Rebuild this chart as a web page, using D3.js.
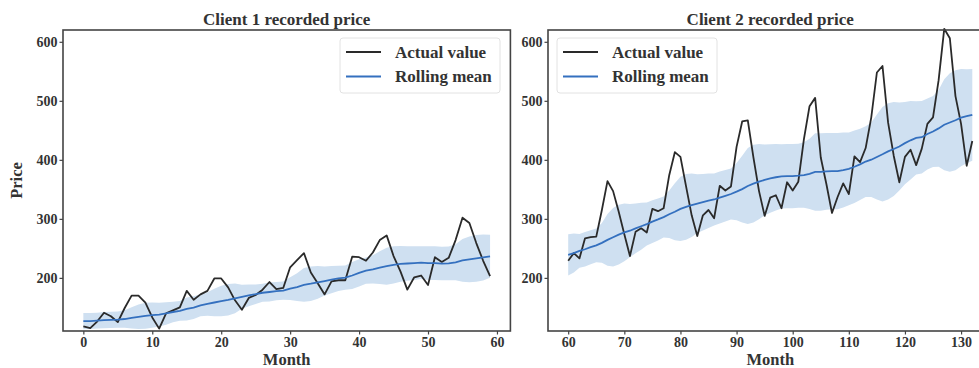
<!DOCTYPE html>
<html>
<head>
<meta charset="utf-8">
<script src="https://cdn.jsdelivr.net/npm/d3@7"></script>
<style>
  body { margin: 0; background: #fff; }
  svg text { font-family: "Liberation Serif", "Times New Roman", serif; font-weight: bold; fill: #333; }
  .domain { display: none; }
  .tick line { stroke: #444; stroke-width: 1.2; }
  .tick text { font-size: 14px; }
</style>
</head>
<body>
<div id="area"></div>
<script>
// Client 1, months 0..59
var months1 = d3.range(0, 60);
var actual1 = [118,115,126,141,135,125,149,170,170,158,133,114,140,145,150,178,163,172,178,199,
  199,184,162,146,166,171,180,193,181,183,218,230,242,209,191,172,194,196,196,236,
  235,229,243,264,272,237,211,180,201,204,188,235,227,234,264,302,293,259,229,203];
var mean1 = [126.7,126.9,127.6,128.3,128.8,129.2,130.3,132.2,134.0,135.8,137.0,137.8,139.7,
  142.2,144.2,147.3,149.6,153.5,155.9,158.3,160.8,162.9,165.3,168.0,170.2,
  172.3,174.8,176.1,177.6,178.5,181.8,184.4,188.0,190.1,192.5,194.7,197.0,
  199.1,200.4,204.0,208.5,212.3,214.4,217.3,219.8,222.1,223.8,224.4,225.0,
  225.7,225.0,224.9,224.3,224.7,226.4,229.6,231.3,233.2,234.7,236.6];
var spread1 = [13.7,13.5,13.2,13.7,13.8,13.7,14.8,18.1,20.8,21.9,21.3,20.1,19.1,
  17.4,16.8,19.3,19.4,18.7,19.9,23.3,25.9,26.8,25.1,20.4,18.4,
  16.7,15.2,16.1,15.6,15.5,19.3,23.4,28.6,29.2,27.8,24.7,23.0,
  21.5,20.7,22.9,23.2,22.4,24.1,27.8,31.4,31.5,30.2,29.1,28.5,
  27.8,28.7,28.6,28.5,28.6,30.4,36.1,38.8,39.6,39.0,36.5];

// Client 2, months 60..132
var months2 = d3.range(60, 133);
var actual2 = [229,242,233,267,269,270,315,364,347,312,274,237,278,
  284,277,317,313,318,374,413,405,355,306,271,306,
  315,301,356,348,355,422,465,467,404,347,305,336,
  340,318,362,348,363,435,491,505,404,359,310,337,
  360,342,406,396,420,472,548,559,463,407,362,405,
  417,391,419,461,472,535,622,606,508,461,390,432];
var mean2 = [238.9,242.1,245.8,248.5,252.0,255.0,259.3,264.4,268.9,273.3,277.1,279.9,284.0,
  287.5,291.2,295.3,299.0,303.0,307.9,312.0,316.8,320.4,323.1,325.9,328.3,
  330.8,332.8,336.1,339.0,342.1,346.1,350.4,355.6,359.7,363.1,365.9,368.4,
  370.5,371.9,372.4,372.4,373.1,374.2,376.3,379.5,379.5,380.5,380.9,381.0,
  382.7,384.7,388.3,392.3,397.1,400.2,404.9,409.4,414.3,418.3,422.7,428.3,
  433.1,437.2,438.3,443.7,448.0,453.3,459.4,463.3,467.1,471.6,473.9,476.2];
var spread2 = [34.9,33.1,28.7,29.1,28.8,28.6,33.5,43.8,49.5,50.8,48.9,45.1,42.1,
  40.0,36.4,36.3,35.6,34.7,40.3,48.2,54.5,55.6,53.9,49.7,47.9,
  46.1,44.0,44.1,43.6,43.3,48.5,56.6,64.4,65.8,63.8,60.0,57.9,
  56.2,54.5,54.4,54.4,54.2,55.4,59.6,65.6,65.6,65.1,64.6,64.5,
  63.6,61.8,61.6,60.3,60.0,63.0,72.0,80.0,81.5,79.7,74.5,69.8,
  66.6,61.9,61.4,60.2,60.2,65.0,77.2,83.6,84.6,82.5,79.5,77.7];

var priceTicks = [200, 300, 400, 500, 600];
var monthTicks1 = [0, 10, 20, 30, 40, 50, 60];
var monthTicks2 = [60, 70, 80, 90, 100, 110, 120, 130];
var legendLabels = ["Actual value", "Rolling mean"];

var width = 979, height = 368;
var plotTop = 30, plotBottom = 331;
var svg = d3.select('#area').append('svg')
  .attr('width', width)
  .attr('height', height);

var y = d3.scaleLinear().domain([110, 620]).range([plotBottom, plotTop]);

function drawPanel(opt) {
  var x = d3.scaleLinear().domain(opt.xDomain).range(opt.xRange);
  var g = svg.append('g');
  var rows = opt.months.map(function(m, i) {
    return {m: m, v: opt.actual[i], mean: opt.mean[i], s: opt.spread[i]};
  });

  g.append('path')
    .datum(rows)
    .attr('fill', '#cfe0f1')
    .attr('d', d3.area()
      .x(function(d) { return x(d.m); })
      .y0(function(d) { return y(d.mean - d.s); })
      .y1(function(d) { return y(d.mean + d.s); }));

  g.append('path')
    .datum(rows)
    .attr('fill', 'none')
    .attr('stroke', '#2a2a2a')
    .attr('stroke-width', 1.8)
    .attr('stroke-linejoin', 'round')
    .attr('d', d3.line().x(function(d) { return x(d.m); }).y(function(d) { return y(d.v); }));

  g.append('path')
    .datum(rows)
    .attr('fill', 'none')
    .attr('stroke', '#3470bf')
    .attr('stroke-width', 1.8)
    .attr('d', d3.line().x(function(d) { return x(d.m); }).y(function(d) { return y(d.mean); }));

  // axes
  g.append('g')
    .attr('transform', 'translate(0,' + plotBottom + ')')
    .call(d3.axisBottom(x).tickValues(opt.xTicks).tickSize(3.5).tickPadding(3).tickFormat(d3.format('d')));
  g.append('g')
    .attr('transform', 'translate(' + opt.xRange[0] + ',0)')
    .call(d3.axisLeft(y).tickValues(priceTicks).tickSize(3.5).tickPadding(2).tickFormat(d3.format('d')));

  // frame
  g.append('rect')
    .attr('x', opt.xRange[0])
    .attr('y', plotTop)
    .attr('width', opt.xRange[1] - opt.xRange[0])
    .attr('height', plotBottom - plotTop)
    .attr('fill', 'none')
    .attr('stroke', '#444')
    .attr('stroke-width', 1.6);

  var cx = (opt.xRange[0] + opt.xRange[1]) / 2;
  g.append('text')
    .attr('x', cx).attr('y', 25)
    .attr('text-anchor', 'middle')
    .style('font-size', '17px')
    .text(opt.title);
  g.append('text')
    .attr('x', cx).attr('y', 365)
    .attr('text-anchor', 'middle')
    .style('font-size', '16.5px')
    .text('Month');

  // legend
  var lg = g.append('g').attr('transform', 'translate(' + opt.legendX + ',38)');
  lg.append('rect')
    .attr('width', 160).attr('height', 55)
    .attr('rx', 3)
    .attr('fill', '#fff').attr('fill-opacity', 0.85)
    .attr('stroke', '#e2e2e2');
  var item = lg.selectAll('.item')
    .data(legendLabels)
    .enter().append('g')
    .attr('transform', function(d, i) { return 'translate(0,' + (14 + i * 24.5) + ')'; });
  item.append('line')
    .attr('x1', 6).attr('x2', 41)
    .attr('stroke', function(d, i) { return i == 0 ? '#2a2a2a' : '#3470bf'; })
    .attr('stroke-width', 1.8);
  item.append('text')
    .attr('x', 55).attr('dy', '0.35em')
    .style('font-size', '17px')
    .text(function(d) { return d; });
}

drawPanel({
  months: months1, actual: actual1, mean: mean1, spread: spread1,
  xDomain: [-2.95, 61.95], xRange: [63, 510.4], xTicks: monthTicks1,
  title: 'Client 1 recorded price', legendX: 340
});
drawPanel({
  months: months2, actual: actual2, mean: mean2, spread: spread2,
  xDomain: [56.4, 135.6], xRange: [548, 992.5], xTicks: monthTicks2,
  title: 'Client 2 recorded price', legendX: 557
});

svg.append('text')
  .attr('transform', 'translate(22,' + ((plotTop + plotBottom) / 2) + ') rotate(-90)')
  .attr('text-anchor', 'middle')
  .style('font-size', '16.5px')
  .text('Price');
</script>
</body>
</html>
